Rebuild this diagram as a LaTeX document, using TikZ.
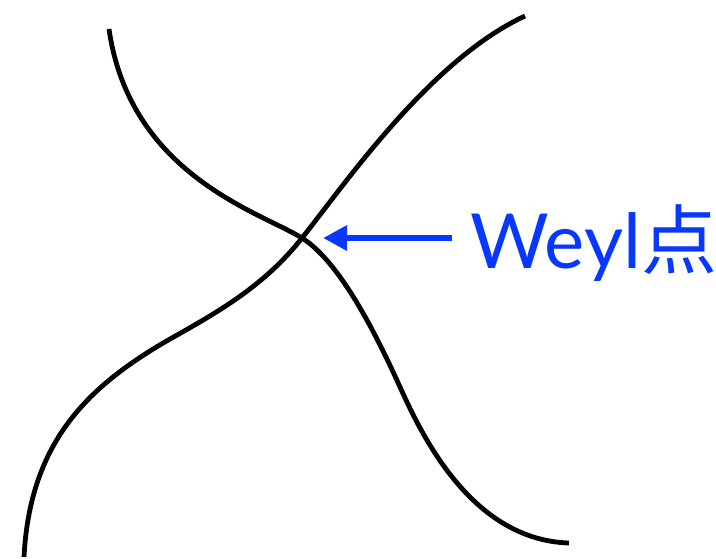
\documentclass[tikz,border=0pt]{standalone}
\usepackage{fontspec}
\setmainfont{Lato}
\newfontfamily\cjk{Noto Sans CJK SC}
\usepackage{xcolor}
\usetikzlibrary{positioning}
\usetikzlibrary{arrows.meta}
\definecolor{weylblue}{RGB}{8,56,255}

\begin{document}
\begin{tikzpicture}[
				x=0.5pt, y=-0.5pt,
				band/.style={line width=2.4pt, black, line cap=butt},
				label/.style={inner sep=0pt, text=weylblue, font=\fontsize{38}{40}\selectfont},
				arrow/.style={-{Triangle[length=12pt, width=12pt]}, line width=3pt, weylblue}
			]
			\useasboundingbox (0,0) rectangle (716,558);

			\coordinate (wp) at (302,238);

			% the two bands
			\draw[band] (109,29) .. controls (130,175) and (260,212) .. (wp)
				.. controls (342,263) and (380,343) .. (400,387)
				.. controls (420,431) and (470,540) .. (569,543);
			\draw[band] (24,557) .. controls (30,440) and (90,385) .. (170,339)
				.. controls (220,311) and (265,285) .. (wp)
				.. controls (345,184) and (430,60) .. (525,16);

			\node[label, anchor=base west] (weyl) at (470,268) {Weyl{\cjk 点}};

			\draw[arrow, shorten >=10.5pt] ([xshift=-9pt]weyl.west |- wp) -- (wp);

		\end{tikzpicture}
\end{document}
